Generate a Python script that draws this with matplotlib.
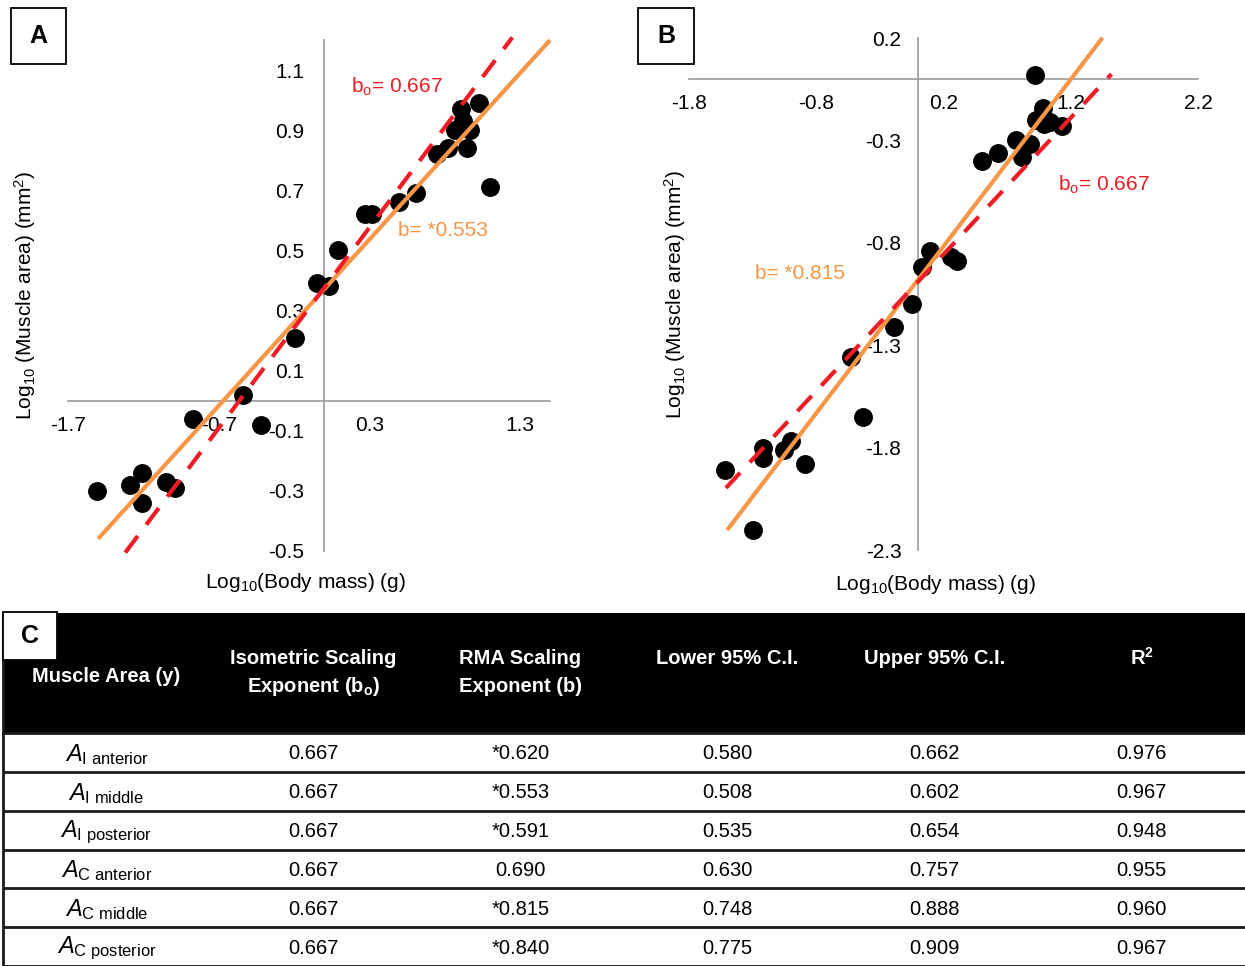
import numpy as np
import matplotlib
matplotlib.use('Agg')
from matplotlib import pyplot as plt
from matplotlib.patches import Rectangle

plt.rcParams['font.family'] = ['Liberation Sans', 'DejaVu Sans']
plt.rcParams['mathtext.fontset'] = 'custom'
plt.rcParams['mathtext.rm'] = 'Liberation Sans'
plt.rcParams['mathtext.it'] = 'Liberation Sans:italic'
plt.rcParams['mathtext.bf'] = 'Liberation Sans:bold'
plt.rcParams['axes.unicode_minus'] = False

# panel A (A_I middle) : log10 body mass / log10 muscle area
a_mass = [-1.51, -1.29, -1.21, -1.21, -1.05, -0.99, -0.87, -0.54, -0.42, -0.19,
          -0.05, 0.03, 0.09, 0.27, 0.32, 0.50, 0.61, 0.75, 0.82, 0.87,
          0.91, 0.92, 0.97, 0.95, 1.03, 1.10]
a_area = [-0.30, -0.28, -0.24, -0.34, -0.27, -0.29, -0.06, 0.02, -0.08, 0.21,
          0.39, 0.38, 0.50, 0.62, 0.62, 0.66, 0.69, 0.82, 0.84, 0.90,
          0.97, 0.93, 0.90, 0.84, 0.99, 0.71]
a_rma = (0.553, 0.370, -1.50, 1.50)    # slope, intercept, x from, x to
a_iso = (0.667, 0.375, -1.32, 1.25)

# panel B (A_C middle)
b_mass = [-1.52, -1.30, -1.22, -1.22, -1.05, -1.00, -0.89, -0.53, -0.43, -0.19,
          -0.05, 0.03, 0.09, 0.26, 0.31, 0.50, 0.63, 0.77, 0.88, 0.82,
          0.92, 0.98, 0.93, 1.04, 1.13, 0.99]
b_area = [-1.91, -2.20, -1.80, -1.85, -1.81, -1.77, -1.88, -1.36, -1.65, -1.21,
          -1.10, -0.92, -0.84, -0.87, -0.89, -0.40, -0.36, -0.30, -0.32, -0.38,
          0.02, -0.14, -0.20, -0.21, -0.23, -0.22]
b_rma = (0.815, -0.980, -1.50, 1.45)
b_iso = (0.667, -0.990, -1.51, 1.52)

# panel C table
col_heads = ['Muscle Area (y)', 'Isometric Scaling\nExponent (b$_{\\mathbf{o}}$)',
             'RMA Scaling\nExponent (b)', 'Lower 95% C.I.', 'Upper 95% C.I.',
             'R$^{\\mathbf{2}}$']
row_subs = ['I anterior', 'I middle', 'I posterior', 'C anterior', 'C middle', 'C posterior']
iso_exp = ['0.667'] * 6
rma_exp = ['*0.620', '*0.553', '*0.591', '0.690', '*0.815', '*0.840']
lower_ci = ['0.580', '0.508', '0.535', '0.630', '0.748', '0.775']
upper_ci = ['0.662', '0.602', '0.654', '0.757', '0.888', '0.909']
r_sq = ['0.976', '0.967', '0.948', '0.955', '0.960', '0.967']

ORANGE = '#f79646'
RED = '#ee1c25'
W, H = 1245, 966

fig = plt.figure(figsize=(W / 100, H / 100), dpi=100)


def px_axes(left, top, right, bottom):
    return fig.add_axes([left / W, 1 - bottom / H, (right - left) / W, (bottom - top) / H])


def panel_box(x0, y0, x1, y1, letter, fs=18):
    fig.patches.append(Rectangle((x0 / W, 1 - y1 / H), (x1 - x0) / W, (y1 - y0) / H,
                                 transform=fig.transFigure, facecolor='white',
                                 edgecolor='black', lw=1.3, zorder=5))
    fig.text((x0 + x1) / 2 / W, 1 - (y0 + y1) / 2 / H, letter, ha='center', va='center',
             fontsize=fs, fontweight='bold', zorder=6)


def scatter_panel(ax, mass, area, rma, iso, xlim, ylim, xticks, yticks, xpad, ypad):
    ax.scatter(mass, area, s=185, color='black', zorder=3, linewidths=0)
    for (slope, icpt, x0, x1), col, ls in [(rma, ORANGE, '-'), (iso, RED, '--')]:
        xs = np.array([x0, x1])
        ln, = ax.plot(xs, icpt + slope * xs, color=col, lw=3.0, ls=ls, zorder=4,
                      clip_on=False, solid_capstyle='butt')
        if ls == '--':
            ln.set_dashes((5.0, 3.4))
    ax.set_xlim(*xlim)
    ax.set_ylim(*ylim)
    for s in ['top', 'right']:
        ax.spines[s].set_visible(False)
    for s in ['left', 'bottom']:
        ax.spines[s].set_position(('data', 0))
        ax.spines[s].set_color('#9a9a9a')
        ax.spines[s].set_linewidth(1.2)
        ax.spines[s].set_zorder(1)
    ax.set_xticks(xticks)
    ax.set_xticklabels([f'{v:.1f}' for v in xticks])
    ax.set_yticks(yticks)
    ax.set_yticklabels([f'{v:.1f}' for v in yticks])
    ax.tick_params(axis='x', length=0, pad=xpad, labelsize=15)
    ax.tick_params(axis='y', length=0, pad=ypad, labelsize=15)
    ax.patch.set_visible(False)


# ---- A
axA = px_axes(68, 40, 550, 551)
scatter_panel(axA, a_mass, a_area, a_rma, a_iso, (-1.7, 1.5), (-0.5, 1.2),
              [-1.7, -0.7, 0.3, 1.3], [-0.5, -0.3, -0.1, 0.1, 0.3, 0.5, 0.7, 0.9, 1.1], 11, 14)
axA.text(0.18, 1.043, 'b$_{\\mathrm{o}}$= 0.667', color=RED, fontsize=15, va='center')
axA.text(0.49, 0.565, 'b= *0.553', color=ORANGE, fontsize=15, va='center')
axA.set_xlabel('Log$_{10}$(Body mass) (g)', fontsize=15, va='center')
axA.xaxis.set_label_coords((305 - 68) / 482, (551 - 582) / 511)
axA.set_ylabel('Log$_{10}$ (Muscle area) (mm$^{2}$)', fontsize=15, va='center')
axA.yaxis.set_label_coords((25 - 68) / 482, 0.5)

# ---- B
axB = px_axes(689, 38, 1198, 550)
scatter_panel(axB, b_mass, b_area, b_rma, b_iso, (-1.8, 2.2), (-2.3, 0.2),
              [-1.8, -0.8, 0.2, 1.2, 2.2], [-2.3, -1.8, -1.3, -0.8, -0.3, 0.2], 11, 12)
axB.text(-1.28, -0.95, 'b= *0.815', color=ORANGE, fontsize=15, va='center')
axB.text(1.10, -0.516, 'b$_{\\mathrm{o}}$= 0.667', color=RED, fontsize=15, va='center')
axB.set_xlabel('Log$_{10}$(Body mass) (g)', fontsize=15, va='center')
axB.xaxis.set_label_coords((935 - 689) / 509, (550 - 585) / 512)
axB.set_ylabel('Log$_{10}$ (Muscle area) (mm$^{2}$)', fontsize=15, va='center')
axB.yaxis.set_label_coords((675 - 689) / 509, 0.5)

# ---- C table
head_h = 120
row_h = (353 - head_h) / 6
axC = px_axes(3, 613, W, H)
axC.set_xlim(0, 6)
axC.set_ylim(353, 0)
axC.axis('off')
axC.add_patch(Rectangle((0, 0), 6, head_h, facecolor='black', edgecolor='none'))
for j, head in enumerate(col_heads):
    lines = head.split('\n')
    if len(lines) == 1 and j == 0:
        axC.text(j + 0.5, 63, lines[0], color='white', fontsize=14.5, fontweight='bold',
                 ha='center', va='center')
    else:
        for k, ln in enumerate(lines):
            axC.text(j + 0.5, 45 + 29 * k, ln, color='white', fontsize=14.5, fontweight='bold',
                     ha='center', va='center')

columns = [iso_exp, rma_exp, lower_ci, upper_ci, r_sq]
for i, sub in enumerate(row_subs):
    yc = head_h + (i + 0.5) * row_h
    name = '$\\mathit{A}_{\\mathrm{' + sub.replace(' ', '\\ ') + '}}$'
    axC.text(0.5, yc + 2, name, fontsize=17, ha='center', va='center')
    for j, col in enumerate(columns):
        axC.text(j + 1.5, yc + 1.5, col[i], fontsize=14.5, ha='center', va='center')
    axC.plot([0, 6], [head_h + (i + 1) * row_h] * 2, color='#1a1a1a', lw=2.0,
             clip_on=False, solid_capstyle='butt')
axC.plot([0, 6], [head_h, head_h], color='#1a1a1a', lw=2.0, clip_on=False)
axC.plot([0, 0], [0, 353], color='#1a1a1a', lw=2.0, clip_on=False)

# panel letters
panel_box(11, 8, 66, 64, 'A')
panel_box(638, 8, 694, 64, 'B')
panel_box(3, 612, 57, 660, 'C')

fig.savefig('out.png', dpi=100)
